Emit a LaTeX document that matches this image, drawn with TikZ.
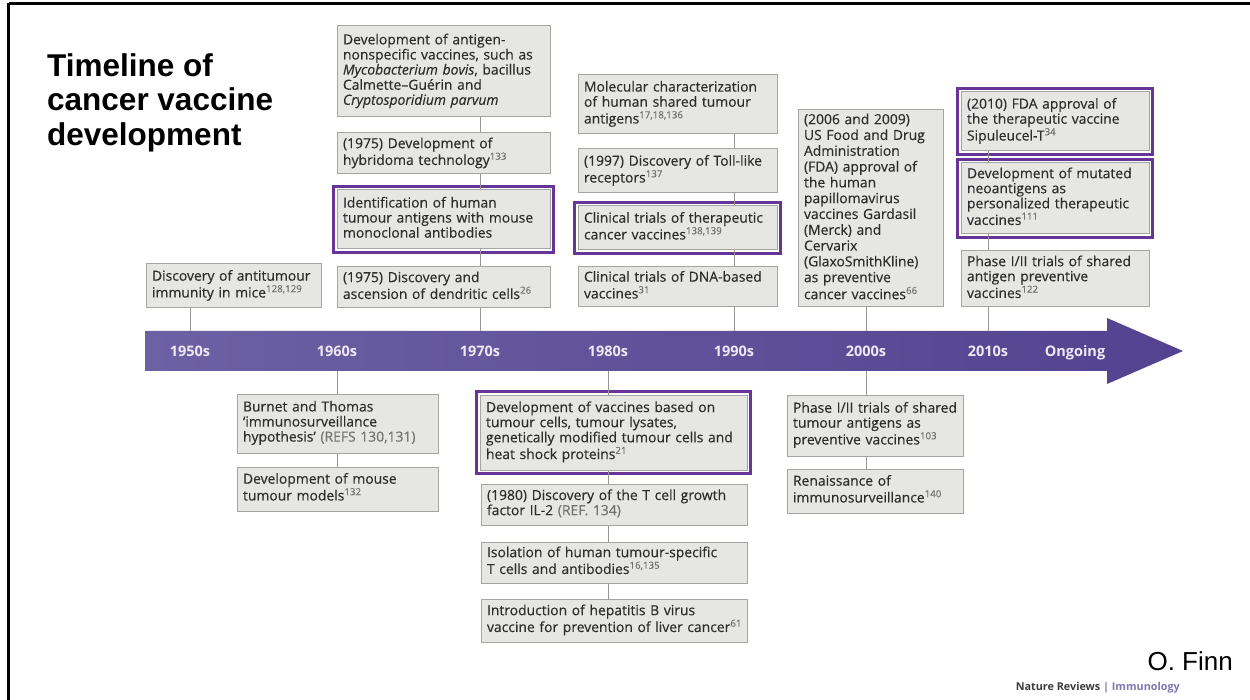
\documentclass[tikz,border=0pt]{standalone}
\usepackage{fontspec}
\setmainfont{Open Sans}
\newfontfamily\boxfont{Open Sans}[FakeBold=0.35,Ligatures=TeX]
\newfontfamily\arialfont{Liberation Sans}
\usetikzlibrary{calc}
\definecolor{boxfill}{RGB}{230,230,226}
\definecolor{boxline}{RGB}{165,165,162}
\definecolor{boxtext}{RGB}{45,45,45}
\definecolor{refgray}{RGB}{115,115,115}
\definecolor{hl}{RGB}{104,52,152}
\definecolor{bandL}{RGB}{108,97,163}
\definecolor{bandR}{RGB}{82,66,144}
\definecolor{bandlabel}{RGB}{238,232,244}
\definecolor{connline}{RGB}{150,150,150}
\definecolor{nrdark}{RGB}{60,60,60}
\definecolor{nrpurple}{RGB}{128,118,176}
\newcommand{\rf}[1]{\textsuperscript{\color{refgray}#1}}
\newcommand{\boxlines}[1]{\begin{tabular}{@{}l@{}}#1\end{tabular}}
\begin{document}
\begin{tikzpicture}[x=1pt,y=-1pt,
  gbox/.style={draw=boxline, line width=1pt, fill=boxfill, text=boxtext, align=left,
    inner xsep=6pt, inner ysep=2pt, font=\boxfont\fontsize{13.9}{15}\selectfont},
  hlframe/.style={draw=hl, line width=2.6pt},
  conn/.style={draw=connline, line width=1pt},
  yr/.style={anchor=base, text=bandlabel, font=\fontsize{14.5}{16}\selectfont\bfseries}]
\useasboundingbox (0,0) rectangle (1250,700);
\fill[white] (0,0) rectangle (1250,700);
% slide frame
\draw[black, line width=3pt] (8.5,3.5) -- (1250,3.5);
\draw[black, line width=3pt] (8.5,3.5) -- (8.5,700);

% title
\node[anchor=north west, inner sep=0pt, align=left,
  font=\arialfont\bfseries\fontsize{31.5}{34.5}\selectfont] (title) at (47,53)
  {Timeline of\\cancer vaccine\\development};

% timeline band
\shade[left color=bandL, right color=bandR]
  (145,331) -- (1107,331) -- (1107,318) -- (1183,351) -- (1107,384) -- (1107,371) -- (145,371) -- cycle;
\node[yr] (y50) at (190,356) {1950s};
\node[yr] (y60) at (337,356) {1960s};
\node[yr] (y70) at (480,356) {1970s};
\node[yr] (y80) at (608,356) {1980s};
\node[yr] (y90) at (734,356) {1990s};
\node[yr] (y00) at (866,356) {2000s};
\node[yr] (y10) at (988,356) {2010s};
\node[yr] (yon) at (1075,356) {Ongoing};

\coordinate (c50t) at (190,331);
\coordinate (c70t) at (480,331);
\coordinate (c90t) at (734,331);
\coordinate (c00t) at (866,331);
\coordinate (c10t) at (988,331);
\coordinate (c60b) at (337,371);
\coordinate (c80b) at (608,371);
\coordinate (c00b) at (866,371);

% 1950s
\node[gbox, minimum width=175pt, minimum height=44pt, text width=163pt] (b50) at (233.5,286)
  {\boxlines{Discovery of antitumour\\immunity in mice\rf{128,129}}};

% 1970s (above)
\node[gbox, minimum width=213pt, minimum height=91pt, text width=201pt] (A) at (443.5,71.5)
  {\boxlines{Development of antigen-\\nonspecific vaccines, such as\\\textit{Mycobacterium bovis}, bacillus\\Calmette–Guérin and\\\textit{Cryptosporidium parvum}}};
\node[gbox, minimum width=213pt, minimum height=41pt, text width=201pt] (B) at (443.5,153.5)
  {\boxlines{(1975) Development of\\hybridoma technology\rf{133}}};
\node[gbox, minimum width=213pt, minimum height=59pt, text width=201pt] (C) at (443.5,219.5)
  {\boxlines{Identification of human\\tumour antigens with mouse\\monoclonal antibodies}};
\node[gbox, minimum width=213pt, minimum height=41pt, text width=201pt] (D) at (443.5,287.5)
  {\boxlines{(1975) Discovery and\\ascension of dendritic cells\rf{26}}};

% 1990s (above)
\node[gbox, minimum width=199pt, minimum height=59pt, text width=187pt] (E) at (677.5,104.5)
  {\boxlines{Molecular characterization\\of human shared tumour\\antigens\rf{17,18,136}}};
\node[gbox, minimum width=199pt, minimum height=44pt, text width=187pt] (F) at (677.5,171)
  {\boxlines{(1997) Discovery of Toll-like\\receptors\rf{137}}};
\node[gbox, minimum width=199pt, minimum height=44pt, text width=187pt] (G) at (677.5,228)
  {\boxlines{Clinical trials of therapeutic\\cancer vaccines\rf{138,139}}};
\node[gbox, minimum width=199pt, minimum height=40pt, text width=187pt] (H) at (677.5,287)
  {\boxlines{Clinical trials of DNA-based\\vaccines\rf{31}}};

% 2000s (above)
\node[gbox, minimum width=145pt, minimum height=197pt, text width=133pt,
  font=\boxfont\fontsize{13.9}{15.8}\selectfont] (I) at (870.5,208.5)
  {\boxlines{(2006 and 2009)\\US Food and Drug\\Administration\\(FDA) approval of\\the human\\papillomavirus\\vaccines Gardasil\\(Merck) and\\Cervarix\\(GlaxoSmithKline)\\as preventive\\cancer vaccines\rf{66}}};

% 2010s (above)
\node[gbox, minimum width=188pt, minimum height=59pt, text width=176pt] (J) at (1055,121.5)
  {\boxlines{(2010) FDA approval of\\the therapeutic vaccine\\Sipuleucel-T\rf{34}}};
\node[gbox, minimum width=188pt, minimum height=71pt, text width=176pt] (K) at (1055,198.5)
  {\boxlines{Development of mutated\\neoantigens as\\personalized therapeutic\\vaccines\rf{111}}};
\node[gbox, minimum width=188pt, minimum height=56pt, text width=176pt] (L) at (1055,279)
  {\boxlines{Phase I/II trials of shared\\antigen preventive\\vaccines\rf{122}}};

% 1960s (below)
\node[gbox, minimum width=201pt, minimum height=59pt, text width=189pt] (M) at (337.5,423.5)
  {\boxlines{Burnet and Thomas\\‘immunosurveillance\\hypothesis’ \textcolor{refgray}{(REFS 130,131)}}};
\node[gbox, minimum width=201pt, minimum height=44pt, text width=189pt] (N) at (337.5,489)
  {\boxlines{Development of mouse\\tumour models\rf{132}}};

% 1980s (below)
\node[gbox, minimum width=267pt, minimum height=75pt, text width=255pt] (O) at (613.5,432.5)
  {\boxlines{Development of vaccines based on\\tumour cells, tumour lysates,\\genetically modified tumour cells and\\heat shock proteins\rf{21}}};
\node[gbox, minimum width=266pt, minimum height=41pt, text width=254pt] (P) at (614,504.5)
  {\boxlines{(1980) Discovery of the T cell growth\\factor IL-2 \textcolor{refgray}{(REF. 134)}}};
\node[gbox, minimum width=266pt, minimum height=41pt, text width=254pt] (Q) at (614,562.5)
  {\boxlines{Isolation of human tumour-specific\\T cells and antibodies\rf{16,135}}};
\node[gbox, minimum width=266pt, minimum height=43pt, text width=254pt] (R) at (614,620.5)
  {\boxlines{Introduction of hepatitis B virus\\vaccine for prevention of liver cancer\rf{61}}};

% 2000s (below)
\node[gbox, minimum width=176pt, minimum height=61pt, text width=164pt] (S) at (875,425.5)
  {\boxlines{Phase I/II trials of shared\\tumour antigens as\\preventive vaccines\rf{103}}};
\node[gbox, minimum width=176pt, minimum height=44pt, text width=164pt] (T) at (875,491)
  {\boxlines{Renaissance of\\immunosurveillance\rf{140}}};

% highlight frames
\foreach \n in {C,G,J,K,O}
  \draw[hlframe] ($(\n.south west)+(-3,3)$) rectangle ($(\n.north east)+(3,-3)$);

% connectors
\draw[conn] (b50.south -| c50t) -- (c50t);
\draw[conn] (A.south -| c70t) -- (B.north -| c70t);
\draw[conn] (B.south -| c70t) -- (C.north -| c70t);
\draw[conn] (C.south -| c70t) -- (D.north -| c70t);
\draw[conn] (D.south -| c70t) -- (c70t);
\draw[conn] (E.south -| c90t) -- (F.north -| c90t);
\draw[conn] (F.south -| c90t) -- (G.north -| c90t);
\draw[conn] (G.south -| c90t) -- (H.north -| c90t);
\draw[conn] (H.south -| c90t) -- (c90t);
\draw[conn] (I.south -| c00t) -- (c00t);
\draw[conn] (J.south -| c10t) -- (K.north -| c10t);
\draw[conn] (K.south -| c10t) -- (L.north -| c10t);
\draw[conn] (L.south -| c10t) -- (c10t);
\draw[conn] (c60b) -- (M.north -| c60b);
\draw[conn] (M.south -| c60b) -- (N.north -| c60b);
\draw[conn] (c80b) -- (O.north -| c80b);
\draw[conn] (O.south -| c80b) -- (P.north -| c80b);
\draw[conn] (P.south -| c80b) -- (Q.north -| c80b);
\draw[conn] (Q.south -| c80b) -- (R.north -| c80b);
\draw[conn] (c00b) -- (S.north -| c00b);
\draw[conn] (S.south -| c00b) -- (T.north -| c00b);

% credits
\node[anchor=base east, inner sep=0pt, font=\arialfont\fontsize{26}{30}\selectfont] (finn) at (1233,670) {O. Finn};
\node[anchor=base east, inner sep=0pt, font=\fontsize{10.8}{13}\selectfont\bfseries] (nr) at (1180,690)
  {\textcolor{nrdark}{Nature Reviews} \textcolor{nrpurple}{| Immunology}};
\end{tikzpicture}
\end{document}
